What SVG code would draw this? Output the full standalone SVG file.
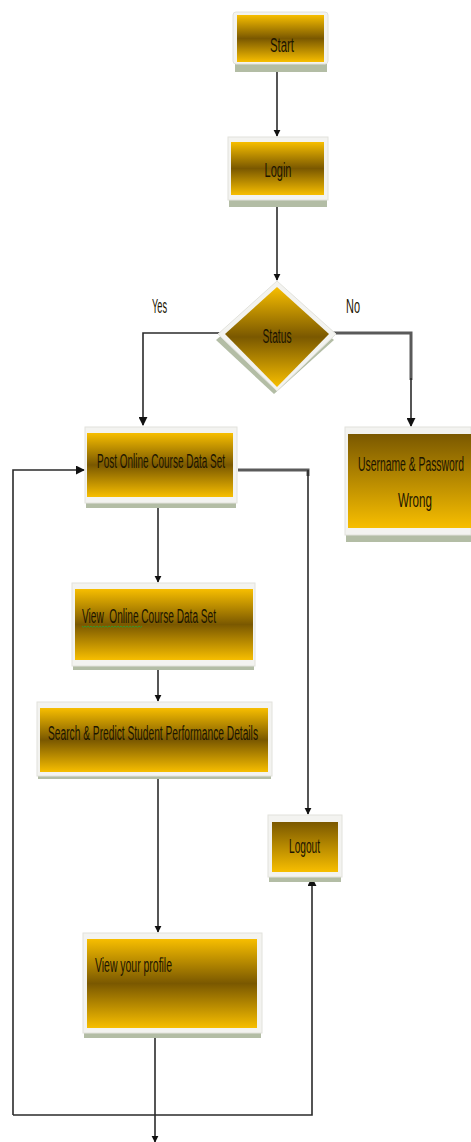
<svg xmlns="http://www.w3.org/2000/svg" width="471" height="1142" viewBox="0 0 471 1142">
  <style>
    .frame { fill: #f3f3f0; stroke: #e2e2dc; stroke-width: 1; }
    .shadow { fill: #b3bda5; }
    .label { font-family: "Liberation Sans Narrow", "Liberation Sans", Arial, sans-serif; font-size: 20px; fill: #1c1500; }
    .wire { fill: none; stroke: #2b2b2b; stroke-width: 1.6; }
    .wire-heavy { fill: none; stroke: #5a5a5a; stroke-width: 3; }
  </style>
  <defs>
    <!-- bright edges with a dark band through the middle -->
    <linearGradient id="goldBand" x1="0" y1="0" x2="0" y2="1">
      <stop offset="0" stop-color="#f7be00"/>
      <stop offset="0.5" stop-color="#7a5800"/>
      <stop offset="1" stop-color="#f7be00"/>
    </linearGradient>
    <!-- dark at the top, bright at the bottom -->
    <linearGradient id="goldFade" x1="0" y1="0" x2="0" y2="1">
      <stop offset="0" stop-color="#7a5800"/>
      <stop offset="1" stop-color="#f7be00"/>
    </linearGradient>
    <marker id="arrow" viewBox="0 0 10 10" refX="9" refY="5" markerWidth="7" markerHeight="8" markerUnits="userSpaceOnUse" orient="auto">
      <path d="M0,0 L10,5 L0,10 Z" fill="#111"/>
    </marker>
    <marker id="arrowWide" viewBox="0 0 10 10" refX="9" refY="5" markerWidth="9" markerHeight="9" markerUnits="userSpaceOnUse" orient="auto">
      <path d="M0,0 L10,5 L0,10 Z" fill="#111"/>
    </marker>
  </defs>

  <rect width="471" height="1142" fill="#ffffff"/>

  <!-- connectors -->
  <g id="connectors">
    <line class="wire" x1="277" y1="72" x2="277" y2="136" marker-end="url(#arrow)"/>
    <line class="wire" x1="277" y1="207" x2="277" y2="280" marker-end="url(#arrow)"/>
    <polyline class="wire" points="222,333 143,333 143,425" marker-end="url(#arrowWide)"/>
    <polyline class="wire-heavy" points="332,333 411,333 411,380"/>
    <line class="wire" x1="411" y1="378" x2="411" y2="426" marker-end="url(#arrowWide)"/>
    <polyline class="wire-heavy" points="238,470 308,470 308,476"/>
    <line class="wire" x1="308" y1="470" x2="308" y2="814" marker-end="url(#arrow)"/>
    <line class="wire" x1="158" y1="508" x2="158" y2="582" marker-end="url(#arrow)"/>
    <line class="wire" x1="158" y1="670" x2="158" y2="701" marker-end="url(#arrow)"/>
    <line class="wire" x1="158" y1="778" x2="158" y2="932" marker-end="url(#arrow)"/>
    <line class="wire" x1="155" y1="1038" x2="155" y2="1142" marker-end="url(#arrow)"/>
    <polyline class="wire" points="13,1115 13,470 84,470" marker-end="url(#arrowWide)"/>
    <polyline class="wire" points="13,1115 312,1115 312,878" stroke-width="2.2" marker-end="url(#arrowWide)"/>
    <text class="label" x="152" y="313" textLength="15" lengthAdjust="spacingAndGlyphs">Yes</text>
    <text class="label" x="346" y="313" textLength="14" lengthAdjust="spacingAndGlyphs">No</text>
  </g>

  <g id="start">
    <rect class="shadow" x="235" y="58" width="92" height="14"/>
    <rect class="frame" x="233" y="12" width="95" height="52" rx="3"/>
    <rect x="237" y="15" width="87" height="47" fill="url(#goldBand)"/>
    <text class="label" x="282" y="52" text-anchor="middle" textLength="24" lengthAdjust="spacingAndGlyphs">Start</text>
  </g>

  <g id="login">
    <rect class="shadow" x="229" y="194" width="98" height="13"/>
    <rect class="frame" x="228" y="137" width="100" height="63"/>
    <rect x="231" y="142" width="93" height="53" fill="url(#goldBand)"/>
    <text class="label" x="278" y="177" text-anchor="middle" textLength="27" lengthAdjust="spacingAndGlyphs">Login</text>
  </g>

  <g id="status">
    <polygon class="shadow" points="274,290 334,340 274,394 216,340"/>
    <polygon class="frame" points="277,281 336,334 277,391 218,334"/>
    <polygon points="277,287 329,334 277,387 225,334" fill="url(#goldBand)"/>
    <text class="label" x="277" y="343" text-anchor="middle" textLength="29" lengthAdjust="spacingAndGlyphs">Status</text>
  </g>

  <g id="credentials-wrong">
    <rect class="shadow" x="346" y="528" width="125" height="14"/>
    <rect class="frame" x="345" y="427" width="126" height="108"/>
    <rect x="348" y="434" width="123" height="94" fill="url(#goldFade)"/>
    <text class="label" x="358" y="471" textLength="106" lengthAdjust="spacingAndGlyphs">Username &amp; Password</text>
    <text class="label" x="398" y="507" textLength="34" lengthAdjust="spacingAndGlyphs">Wrong</text>
  </g>

  <g id="post-dataset">
    <rect class="shadow" x="86" y="498" width="150" height="10"/>
    <rect class="frame" x="85" y="427" width="152" height="76"/>
    <rect x="87" y="433" width="146" height="64" fill="url(#goldBand)"/>
    <text class="label" x="97" y="468" textLength="128" lengthAdjust="spacingAndGlyphs">Post Online Course Data Set</text>
  </g>

  <g id="view-dataset">
    <rect class="shadow" x="73" y="661" width="181" height="9"/>
    <rect class="frame" x="72" y="583" width="183" height="83"/>
    <rect x="75" y="589" width="178" height="71" fill="url(#goldBand)"/>
    <text class="label" x="82" y="623" textLength="134" lengthAdjust="spacingAndGlyphs" xml:space="preserve">View  Online Course Data Set</text>
    <!-- spell-check squiggle under the first words -->
    <path d="M82,626 l1.5,1.5 l1.5,-1.5 l1.5,1.5 l1.5,-1.5 l1.5,1.5 l1.5,-1.5 l1.5,1.5 l1.5,-1.5 l1.5,1.5 l1.5,-1.5 l1.5,1.5 l1.5,-1.5 l1.5,1.5 l1.5,-1.5 l1.5,1.5 l1.5,-1.5 l1.5,1.5 l1.5,-1.5 l1.5,1.5 l1.5,-1.5 l1.5,1.5 l1.5,-1.5 l1.5,1.5 l1.5,-1.5 l1.5,1.5 l1.5,-1.5 l1.5,1.5 l1.5,-1.5 l1.5,1.5 l1.5,-1.5 l1.5,1.5 l1.5,-1.5 l1.5,1.5 l1.5,-1.5 l1.5,1.5 l1.5,-1.5 l1.5,1.5 l1.5,-1.5 l1.5,1.5 l1.5,-1.5" fill="none" stroke="#2f9a2f" stroke-width="0.9"/>
  </g>

  <g id="search-predict">
    <rect class="shadow" x="38" y="772" width="233" height="7"/>
    <rect class="frame" x="37" y="702" width="235" height="74"/>
    <rect x="40" y="708" width="228" height="64" fill="url(#goldBand)"/>
    <text class="label" x="48" y="740" textLength="210" lengthAdjust="spacingAndGlyphs">Search &amp; Predict Student Performance Details</text>
  </g>

  <g id="logout">
    <rect class="shadow" x="269" y="872" width="72" height="10"/>
    <rect class="frame" x="268" y="815" width="74" height="62"/>
    <rect x="272" y="822" width="66" height="50" fill="url(#goldFade)"/>
    <text class="label" x="289" y="853" textLength="31" lengthAdjust="spacingAndGlyphs">Logout</text>
  </g>

  <g id="view-profile">
    <rect class="shadow" x="84" y="1028" width="177" height="10"/>
    <rect class="frame" x="83" y="933" width="179" height="100"/>
    <rect x="87" y="939" width="170" height="89" fill="url(#goldBand)"/>
    <text class="label" x="95" y="972" textLength="77" lengthAdjust="spacingAndGlyphs">View your profile</text>
  </g>
</svg>
